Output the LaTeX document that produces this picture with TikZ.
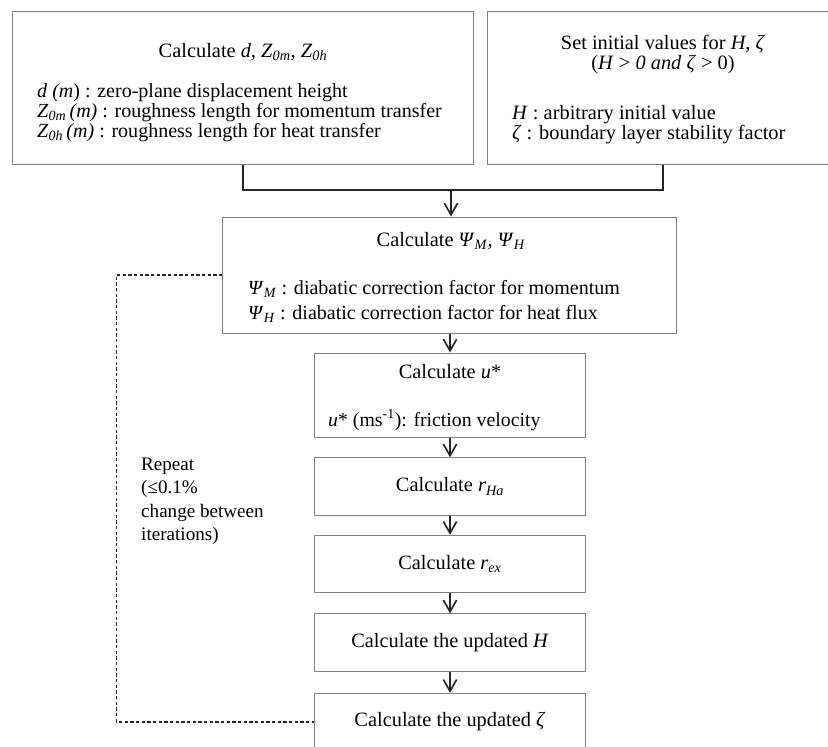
\documentclass[tikz,border=0pt]{standalone}
\usepackage{fontspec}
\setmainfont{Liberation Serif}
\usetikzlibrary{arrows.meta}
\newcommand{\vsub}[1]{\textsubscript{\textit{#1}}}
\begin{document}
\begin{tikzpicture}[x=0.03cm,y=-0.03cm,
    every node/.style={font=\fontsize{17.4pt}{20.4pt}\selectfont},
    calcbox/.style={draw=black!50, line width=0.03cm, inner sep=0pt},
    boxtext/.style={inner sep=0pt, anchor=base west},
    smalltext/.style={boxtext, font=\fontsize{17.1pt}{20pt}\selectfont},
    boxtitle/.style={inner sep=0pt, anchor=base},
    flow/.style={draw=black!85, line width=0.05cm},
    flowarrow/.style={flow, -{Straight Barb[length=3.5mm, width=4mm, line width=0.05cm]}},
    repeatline/.style={draw=black!85, line width=0.05cm, dash pattern=on 0.1cm off 0.07cm}]
\clip (0,0) rectangle (828,747);
\fill[white] (0,0) rectangle (828,747);

% Drawing box for d, Z0m, Z0h
\node [calcbox, minimum width=13.8cm, minimum height=4.59cm] (geom) at (243,87.5) {};
\node [boxtitle] (geomtitle) at (243,57) {Calculate \textit{d, Z}\vsub{0m}\textit{, Z}\vsub{0h}};
\node [smalltext] (geomd) at (37,97) {\textit{d (m}) : zero-plane displacement height};
\node [smalltext] (geomzm) at (37,117) {\textit{Z}\vsub{0m}\,\textit{(m)} : roughness length for momentum transfer};
\node [smalltext] (geomzh) at (37,137) {\textit{Z}\vsub{0h}\,\textit{(m)} : roughness length for heat transfer};

% Drawing box for initial values
\node [calcbox, minimum width=10.5cm, minimum height=4.59cm] (init) at (663,87.5) {};
\node [boxtitle] (inittitle) at (663,49) {Set initial values for \textit{H}, \textit{ζ}};
\node [boxtitle] (initcond) at (663,69) {(\textit{H} > \textit{0 and ζ} > 0)};
\node [boxtext] (inith) at (512,119) {\textit{H} : arbitrary initial value};
\node [boxtext] (initz) at (512,139) {\textit{ζ} : boundary layer stability factor};

% Drawing box for Psi_M, Psi_H
\node [calcbox, minimum width=13.59cm, minimum height=3.48cm] (psi) at (449.5,275) {};
\node [boxtitle] (psititle) at (451,246) {Calculate \textit{Ψ}\vsub{M}\textit{, Ψ}\vsub{H}};
\node [smalltext] (psim) at (248,294) {\textit{Ψ}\vsub{M} : diabatic correction factor for momentum};
\node [smalltext] (psih) at (248,319) {\textit{Ψ}\vsub{H} : diabatic correction factor for heat flux};

% Drawing box for u*
\node [calcbox, minimum width=8.1cm, minimum height=2.52cm] (ustar) at (450,395) {};
\node [boxtitle] (ustartitle) at (450,378) {Calculate \textit{u}*};
\node [boxtext, font=\fontsize{16.9pt}{20pt}\selectfont] (ustarnote) at (328,426) {\textit{u}* (ms\textsuperscript{-1}): friction velocity};

% Drawing single line boxes
\node [calcbox, minimum width=8.1cm, minimum height=1.72cm] (rha) at (450,486.5) {Calculate \textit{r}\vsub{Ha}};
\node [calcbox, minimum width=8.1cm, minimum height=1.72cm] (rex) at (450,564) {Calculate \textit{r}\vsub{ex}};
\node [calcbox, minimum width=8.1cm, minimum height=1.72cm] (newh) at (450,642.5) {Calculate the updated \textit{H}};
\node [calcbox, minimum width=8.1cm, minimum height=1.72cm] (newz) at (450,722) {Calculate the updated \textit{ζ}};

% Marking repeat note
\node [boxtext, anchor=north west, align=left, font=\fontsize{16.3pt}{19.8pt}\selectfont] (repeat) at (141,458) {Repeat\\(≤0.1\%\\change between\\iterations)};

% Drawing merge of the two top boxes
\coordinate (merge) at (451,190);
\draw [flow] (geom.south) |- (merge) -| (init.south);
\draw [flowarrow] (merge) -- (psi.north -| merge);

% Drawing flow down the column
\draw [flowarrow] (psi.south -| ustar.north) -- (ustar.north);
\draw [flowarrow] (ustar) -- (rha.north);
\draw [flowarrow] (rha) -- (rex.north);
\draw [flowarrow] (rex) -- (newh.north);
\draw [flowarrow] (newh) -- (newz.north);

% Drawing repeat loop
\draw [repeatline] (psi.west) -- ++(-106,0) |- (newz.west);
\end{tikzpicture}
\end{document}
